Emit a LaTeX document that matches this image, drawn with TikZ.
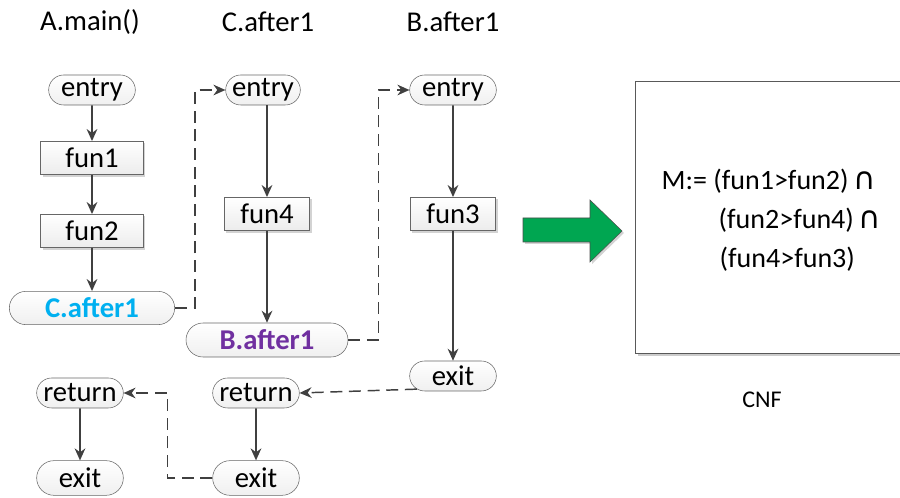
\documentclass[tikz,border=0pt]{standalone}
\usepackage{fontspec}
\setmainfont{Carlito}
\newfontfamily\symfont{DejaVu Sans}
\usepackage{xcolor}
\usetikzlibrary{positioning,arrows.meta,shapes.misc,shadows}

\definecolor{lineg}{RGB}{64,64,64}
\definecolor{callblue}{RGB}{0,176,240}
\definecolor{callpurple}{RGB}{112,48,160}
\definecolor{arrgreen}{RGB}{0,166,81}

\begin{document}
\begin{tikzpicture}[
		x=0.75pt, y=-0.75pt,
		pill/.style={rounded rectangle, draw=gray!80!black, thin, top color=white, bottom color=gray!12, minimum width=65pt, minimum height=22.5pt, inner sep=0pt, font=\fontsize{21.5}{24}\selectfont},
		box/.style={rectangle, draw=gray!80!black, thin, top color=white, bottom color=gray!15, drop shadow={shadow xshift=1.5pt, shadow yshift=-1.5pt, opacity=0.35}, minimum width=64pt, minimum height=25pt, inner sep=0pt, font=\fontsize{21.5}{24}\selectfont},
		ttl/.style={font=\fontsize{21.5}{24}\selectfont},
		frm/.style={anchor=west, font=\fontsize{21}{24}\selectfont},
		arr/.style={-{Stealth[length=9pt, width=8pt]}, line width=1.3pt, draw=lineg},
		call/.style={-{Stealth[length=9pt, width=8pt]}, line width=1.1pt, draw=lineg, dash pattern=on 9pt off 5pt}
		]
		
		\useasboundingbox (0,0) rectangle (900,498);
		
		% ==========================================
		% Column 1: A.main()
		% ==========================================
		\node[ttl] (tA) at (90,22) {A.main()};
		\node[pill] (aentry) at (92,90) {entry};
		\node[box, minimum width=77pt] (afun1) at (92,158) {fun1};
		\node[box, minimum width=77pt] (afun2) at (92,231) {fun2};
		\node[pill, minimum width=124pt, minimum height=25pt, text=callblue, font=\fontsize{21.5}{24}\selectfont\bfseries] (acall) at (92,308) {C.after1};
		\draw[arr] (aentry) -- (afun1);
		\draw[arr] (afun1) -- (afun2);
		\draw[arr] (afun2) -- (acall);
		
		% -- return part --
		\node[pill] (aret) at (80,393) {return};
		\node[pill, minimum height=26pt] (aexit) at (80,478) {exit};
		\draw[arr] (aret) -- (aexit);
		
		% ==========================================
		% Column 2: C.after1
		% ==========================================
		\node[ttl] (tC) at (268,22) {C.after1};
		\node[pill, minimum width=56pt] (centry) at (263,90) {entry};
		\node[box] (cfun4) at (267,214) {fun4};
		\node[pill, minimum width=121.5pt, minimum height=25.5pt, text=callpurple, font=\fontsize{21.5}{24}\selectfont\bfseries] (ccall) at (267,340) {B.after1};
		\draw[arr] ([xshift=3pt]centry.south) -- (cfun4);
		\draw[arr] (cfun4) -- (ccall);
		
		% -- return part --
		\node[pill] (cret) at (256,393) {return};
		\node[pill, minimum height=26pt] (cexit) at (256,478) {exit};
		\draw[arr] (cret) -- (cexit);
		
		% ==========================================
		% Column 3: B.after1
		% ==========================================
		\node[ttl] (tB) at (453,22) {B.after1};
		\node[pill] (bentry) at (453,90) {entry};
		\node[box] (bfun3) at (453,214) {fun3};
		\node[pill] (bexit) at (453,376) {exit};
		\draw[arr] (bentry) -- (bfun3);
		\draw[arr] (bfun3) -- (bexit);
		
		% ==========================================
		% calls and returns (dashed)
		% ==========================================
		\draw[call] (acall.east) -- ++(20,0) |- (centry.west);
		\draw[call] (ccall.east) -- ++(30,0) |- (bentry.west);
		\draw[call] (bexit.200) -- (cret.east);
		\draw[call] (cexit.west) -- ++(-45,0) |- (aret.east);
		
		% ==========================================
		% Result: CNF
		% ==========================================
		\draw[draw=gray!60!black, fill=arrgreen, thin, drop shadow={shadow xshift=1.5pt, shadow yshift=-1.5pt, opacity=0.35}]
			(523,218) -- (590,218) -- (590,200) -- (622,231) -- (590,262) -- (590,242) -- (523,242) -- cycle;
		
		\draw[gray!40, line width=1.5pt] (638,355) -- (900,355);
		\draw[gray!70!black, thin, fill=white] (900,81) -| (635,353) -- (900,353);
		
		\node[frm] (m1) at (657,181) {M:= (fun1>fun2)\,{\symfont\fontsize{23}{24}\selectfont ∩}};
		\node[frm] (m2) at (714,220) {(fun2>fun4)\,{\symfont\fontsize{23}{24}\selectfont ∩}};
		\node[frm] (m3) at (715,259) {(fun4>fun3)};
		
		\node[font=\fontsize{18}{20}\selectfont] (cnf) at (762,400) {CNF};
		
\end{tikzpicture}
\end{document}
